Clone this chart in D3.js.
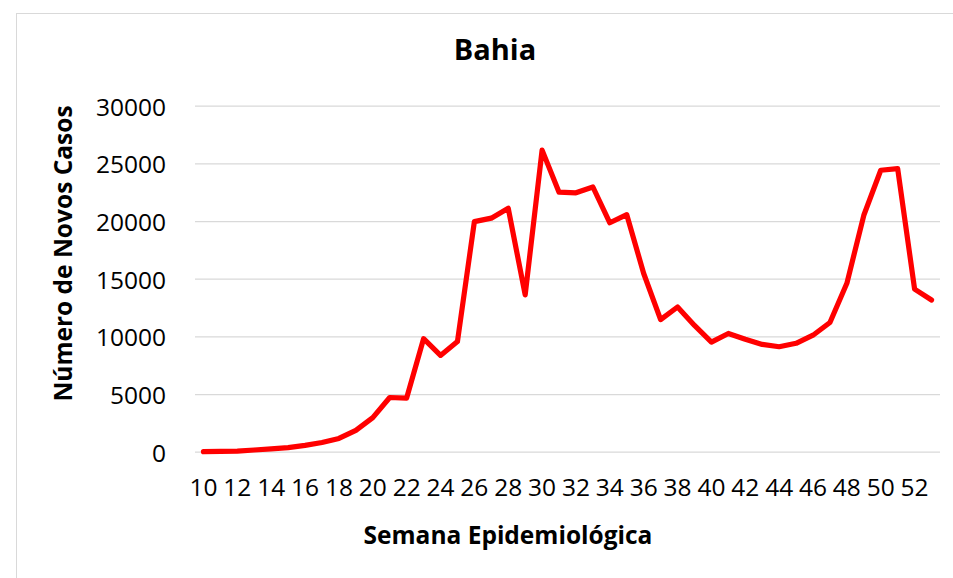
<!DOCTYPE html>
<html>
<head>
<meta charset="utf-8">
<script src="https://cdn.jsdelivr.net/npm/d3@7"></script>
<style>
  body { margin: 0; background: #fff; }
  text { font-family: "Open Sans", sans-serif; fill: #000; }
  .tick text { font-size: 24.5px; }
  .bold { font-weight: bold; }
</style>
</head>
<body>
<div id="chart"></div>
<script>
const width = 953;
const height = 578;

// semanas epidemiologicas 10..53
const weeks = d3.range(10, 54);
const cases = [
  0, 20, 50, 150, 250, 350, 550, 800, 1150, 1850,
  2950, 4700, 4650, 9800, 8350, 9550, 19950, 20250, 21100, 13600,
  26150, 22500, 22450, 22950, 19850, 20550, 15450, 11450, 12550, 10950,
  9500, 10250, 9750, 9300, 9100, 9400, 10100, 11200, 14600, 20500,
  24400, 24550, 14100, 13150
];
const yTicks = [0, 5000, 10000, 15000, 20000, 25000, 30000];

const margin = { top: 105.7, right: 13, bottom: 126.3, left: 195 };

const svg = d3.select("#chart").append("svg")
  .attr("width", width)
  .attr("height", height);

// moldura do grafico
svg.append("rect")
  .attr("x", 16.5).attr("y", 13.5)
  .attr("width", 1000).attr("height", 1000)
  .attr("fill", "none")
  .attr("stroke", "#d9d9d9")
  .attr("stroke-width", 1);

const x = d3.scaleBand()
  .domain(weeks)
  .range([margin.left, width - margin.right]);

const y = d3.scaleLinear()
  .domain([0, 30000])
  .range([height - margin.bottom, margin.top]);

// grid + eixo y
const yAxis = d3.axisLeft(y)
  .tickValues(yTicks)
  .tickSize(-(width - margin.right - margin.left))
  .tickPadding(29)
  .tickFormat(d => d);

svg.append("g")
  .attr("class", "axis yAxis")
  .attr("transform", `translate(${margin.left},0)`)
  .call(yAxis)
  .call(g => g.select(".domain").remove())
  .call(g => g.selectAll(".tick line").attr("stroke", "#d9d9d9").attr("stroke-width", 1.3))
  .call(g => g.selectAll(".tick text").attr("dy", "0.38em"));

// eixo x
const xAxis = d3.axisBottom(x)
  .tickValues(weeks.filter(d => d % 2 == 0))
  .tickSize(0)
  .tickPadding(27);

svg.append("g")
  .attr("class", "axis xAxis")
  .attr("transform", `translate(0,${height - margin.bottom})`)
  .call(xAxis)
  .call(g => g.select(".domain").remove());

const line = d3.line()
  .x((d, i) => x(weeks[i]) + x.bandwidth() / 2)
  .y(d => y(d));

svg.append("path")
  .datum(cases)
  .attr("fill", "none")
  .attr("stroke", "#ff0000")
  .attr("stroke-width", 5.2)
  .attr("stroke-linejoin", "round")
  .attr("stroke-linecap", "round")
  .attr("d", line);

svg.append("text")
  .attr("class", "bold")
  .attr("x", 495)
  .attr("y", 60)
  .attr("text-anchor", "middle")
  .style("font-size", "29px")
  .text("Bahia");

svg.append("text")
  .attr("class", "bold")
  .attr("x", 508)
  .attr("y", 544)
  .attr("text-anchor", "middle")
  .style("font-size", "24.5px")
  .text("Semana Epidemiológica");

svg.append("text")
  .attr("class", "bold")
  .attr("transform", "translate(72,253.5) rotate(-90)")
  .attr("text-anchor", "middle")
  .style("font-size", "24.5px")
  .text("Número de Novos Casos");
</script>
</body>
</html>
